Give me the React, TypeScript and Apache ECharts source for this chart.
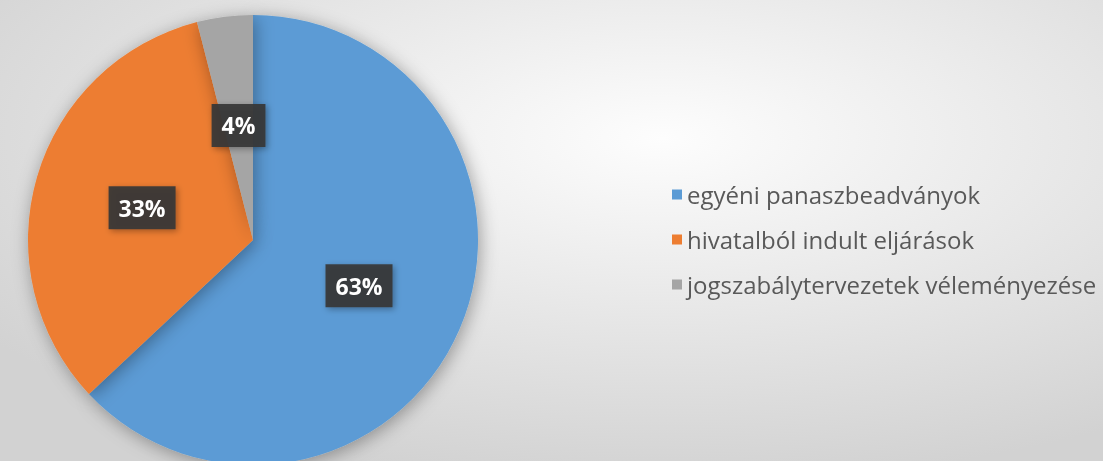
import React, { useEffect, useRef } from "react";
import * as echarts from "echarts";

const categories = [
  "egyéni panaszbeadványok",
  "hivatalból indult eljárások",
  "jogszabálytervezetek véleményezése",
];
const values = [63, 33, 4];
const colors = ["#5b9bd5", "#ed7d31", "#a5a5a5"];

export default function App() {
  const ref = useRef<HTMLDivElement>(null);
  useEffect(() => {
    if (!ref.current) return;
    const chart = echarts.init(ref.current, undefined, { renderer: "svg" });
    chart.setOption({
      animation: false,
      backgroundColor: {
        type: "radial",
        x: 0.6,
        y: 0.3,
        r: 0.75,
        colorStops: [
          { offset: 0, color: "#fdfdfd" },
          { offset: 1, color: "#d2d2d2" },
        ],
      },
      legend: {
        orient: "vertical",
        left: 667,
        top: 174,
        itemWidth: 10,
        itemHeight: 10,
        itemGap: 14,
        icon: "rect",
        textStyle: {
          fontFamily: "Open Sans",
          fontSize: 24,
          color: "#595959",
          lineHeight: 31,
        },
        data: categories,
      },
      series: [
        {
          type: "pie",
          center: [253, 240],
          radius: [0, 225],
          startAngle: 90,
          clockwise: true,
          itemStyle: {
            shadowBlur: 18,
            shadowColor: "rgba(0,0,0,0.35)",
            shadowOffsetX: 2,
            shadowOffsetY: 3,
          },
          label: {
            show: true,
            position: "inside",
            formatter: "{d}%",
            color: "#ffffff",
            fontFamily: "Open Sans",
            fontWeight: "bold",
            fontSize: 23,
            lineHeight: 27,
            backgroundColor: "rgba(55,55,55,0.93)",
            padding: [9, 10, 7, 10],
            shadowBlur: 6,
            shadowColor: "rgba(0,0,0,0.35)",
            shadowOffsetX: 2,
            shadowOffsetY: 2,
          },
          labelLine: { show: false },
          data: categories.map((c, i) => ({
            name: c,
            value: values[i],
            itemStyle: { color: colors[i] },
          })),
        },
      ],
    });
    return () => chart.dispose();
  }, []);
  return (
    <div
      ref={ref}
      style={{ position: "fixed", left: 0, top: 0, width: 1103, height: 461 }}
    />
  );
}
